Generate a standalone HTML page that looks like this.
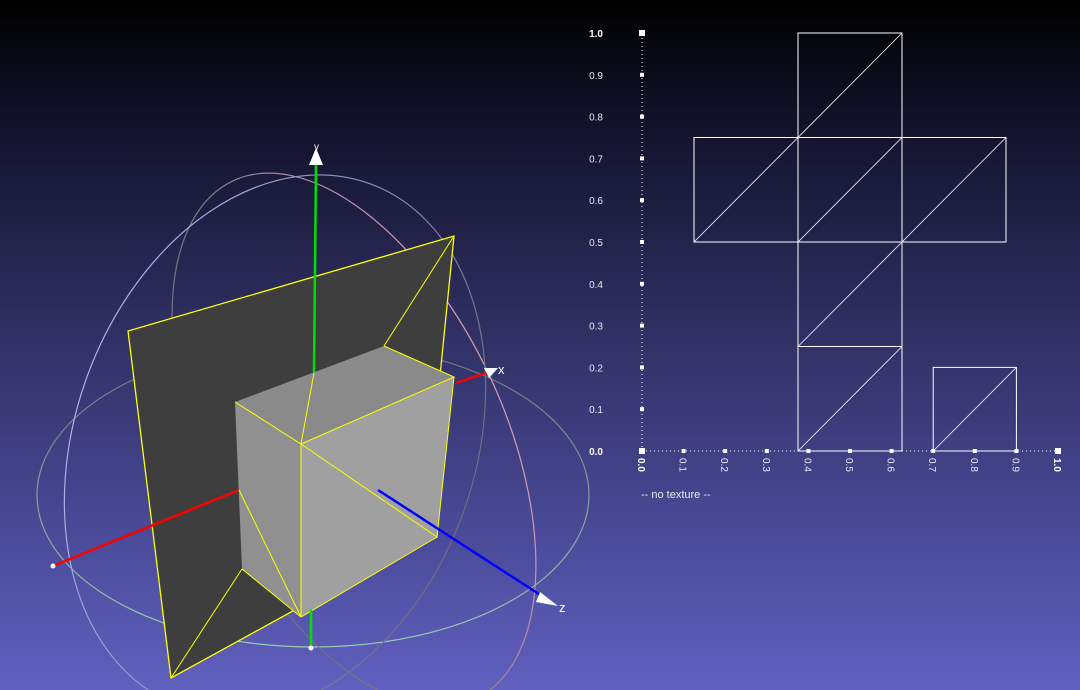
<!DOCTYPE html>
<html><head><meta charset="utf-8"><style>
html,body{margin:0;padding:0;width:1080px;height:690px;overflow:hidden}
body{background:linear-gradient(#000000 0%,#14142f 20%,#2d2d5e 45%,#45458f 72%,#6060c0 100%);font-family:"Liberation Sans",sans-serif}
svg{position:absolute;left:0;top:0;overflow:hidden}
</style></head><body>
<svg width="1080" height="690">
 <defs>
  <linearGradient id="gp" x1="0" y1="0" x2="1" y2="0"><stop offset="0" stop-color="#6c6c7c"/><stop offset="0.45" stop-color="#8a7a8a"/><stop offset="1" stop-color="#d8a0b0"/></linearGradient>
  <linearGradient id="gl" x1="0" y1="0" x2="1" y2="0"><stop offset="0" stop-color="#b0b0ea"/><stop offset="0.55" stop-color="#8a8ab8"/><stop offset="1" stop-color="#6c6c7c"/></linearGradient>
  <linearGradient id="gh" x1="0" y1="0" x2="0" y2="1"><stop offset="0" stop-color="#70707a"/><stop offset="1" stop-color="#98d0b0"/></linearGradient>
 </defs>
 <g fill="none" stroke-width="1.2">
  <ellipse cx="313" cy="495" rx="276" ry="152" stroke="url(#gh)"/>
  <ellipse cx="354" cy="440" rx="150" ry="286" transform="rotate(-25 354 440)" stroke="url(#gp)"/>
  <ellipse cx="275" cy="445" rx="200" ry="278" transform="rotate(20 275 445)" stroke="url(#gl)"/>
 </g>
 <polygon points="128,331 454,236 440,376 437,537 291,612 171,678" fill="#3e3e3e" stroke="#ffff00" stroke-width="1.3"/>
 <line x1="454" y1="236" x2="384" y2="346" stroke="#ffff00"/>
 <line x1="171" y1="678" x2="242" y2="569" stroke="#ffff00"/>
 <line x1="53" y1="566" x2="239" y2="490" stroke="#ff0000" stroke-width="2.5"/>
 <line x1="316" y1="165" x2="314" y2="373" stroke="#00e000" stroke-width="2.5"/>
 <line x1="456" y1="383" x2="495" y2="370" stroke="#ff0000" stroke-width="2.5"/>
 <polygon points="235,402 384,346 454,377 301,444" fill="#8a8a8a"/>
 <polygon points="235,402 301,444 301,617 242,569" fill="#909090"/>
 <polygon points="301,444 454,377 437,537 301,617" fill="#a0a0a0"/>
 <g stroke="#ffff00" stroke-width="1" fill="none">
  <polyline points="235,402 301,444 454,377 384,346"/>
  <line x1="301" y1="444" x2="301" y2="617"/>
  <line x1="301" y1="444" x2="437" y2="537"/>
  <line x1="454" y1="377" x2="437" y2="537"/>
  <polyline points="242,569 301,617 437,537"/>
  <line x1="239" y1="490" x2="301" y2="617"/>
  <line x1="314" y1="373" x2="301" y2="444"/>
 </g>
 <line x1="378" y1="490" x2="545" y2="598" stroke="#0000ff" stroke-width="2.5"/>
 <line x1="311" y1="610" x2="311" y2="648" stroke="#00e000" stroke-width="2.5"/>
 <polygon points="316,148 309,165 323,165" fill="#fff"/>
 <polygon points="498,368 484,368 489,378" fill="#fff"/>
 <polygon points="558,606 540,592 536,602" fill="#fff"/>
 <circle cx="53" cy="566" r="2.5" fill="#fff"/>
 <circle cx="311" cy="648" r="2.5" fill="#fff"/>
 <g fill="#fff" font-size="13">
  <text x="314" y="150" font-size="10">y</text>
  <text x="498" y="374">x</text>
  <text x="559" y="612">z</text>
 </g>
 <g id="uv"></g>
</svg>
<script>
const tickValues=[0.1,0.2,0.3,0.4,0.5,0.6,0.7,0.8,0.9];
const tickLabels=["0.1","0.2","0.3","0.4","0.5","0.6","0.7","0.8","0.9"];
const uvRects=[[0.375,0.75,0.625,1.0],[0.125,0.5,0.375,0.75],[0.375,0.5,0.625,0.75],[0.625,0.5,0.875,0.75],[0.375,0.25,0.625,0.5],[0.375,0.0,0.625,0.25],[0.7,0.0,0.9,0.2]];
const uvDiagonals=[[0.375,0.75,0.625,1.0],[0.125,0.5,0.375,0.75],[0.375,0.5,0.625,0.75],[0.625,0.5,0.875,0.75],[0.375,0.25,0.625,0.5],[0.375,0.0,0.625,0.25],[0.7,0.0,0.9,0.2]];
const NS="http://www.w3.org/2000/svg";
const g=document.getElementById('uv');
const X=u=>642+u*416, Y=v=>451-v*418;
function mk(t,a,p){const e=document.createElementNS(NS,t);for(const k in a)e.setAttribute(k,a[k]);(p||g).appendChild(e);return e;}
let e;
e=mk('line',{x1:X(0),y1:Y(0),x2:X(1),y2:Y(0),stroke:'#fff','stroke-dasharray':'1 3'});


e=mk('line',{x1:X(0),y1:Y(0),x2:X(0),y2:Y(1),stroke:'#fff','stroke-dasharray':'1 3'});


uvRects.forEach(r=>{
 e=mk('rect',{x:X(r[0]),y:Y(r[3]),width:X(r[2])-X(r[0]),height:Y(r[1])-Y(r[3]),fill:'none',stroke:'#fff','stroke-width':1});
 
 
});
uvDiagonals.forEach(d=>{
 e=mk('line',{x1:X(d[0]),y1:Y(d[1]),x2:X(d[2]),y2:Y(d[3]),stroke:'#fff','stroke-width':0.8});
 
 
});
[0,1].forEach(v=>{
 e=mk('rect',{x:X(v)-3,y:Y(0)-3,width:6,height:6,fill:'#fff'});
 
 
 e=mk('rect',{x:X(0)-3,y:Y(v)-3,width:6,height:6,fill:'#fff'});
 
 
});
tickValues.forEach((v,i)=>{
 e=mk('rect',{x:X(v)-2,y:Y(0)-2,width:4,height:4,fill:'#fff'});
 
 
 e=mk('rect',{x:X(0)-2,y:Y(v)-2,width:4,height:4,fill:'#fff'});
 
 
 e=mk('text',{x:603,y:Y(v)+4,'text-anchor':'end','font-size':10,fill:'#e8e8f0'});
 e.textContent=tickLabels[i];
 
 
 e=mk('text',{x:0,y:0,'font-size':10,fill:'#e8e8f0',transform:`translate(${X(v)-4},${Y(0)+7}) rotate(90)`});
 e.textContent=tickLabels[i];
 
 
});
[["0.0",0],["1.0",1]].forEach(([t,v])=>{
 e=mk('text',{x:603,y:Y(v)+4,'text-anchor':'end','font-size':10,'font-weight':'bold',fill:'#fff'});
 e.textContent=t;
 
 
 e=mk('text',{x:0,y:0,'font-size':10,'font-weight':'bold',fill:'#fff',transform:`translate(${X(v)-4},${Y(0)+7}) rotate(90)`});
 e.textContent=t;
 
 
});
e=mk('text',{x:641,y:498,'font-size':11,fill:'#e8e8f0'});
e.textContent='-- no texture --';


</script>
</body></html>
